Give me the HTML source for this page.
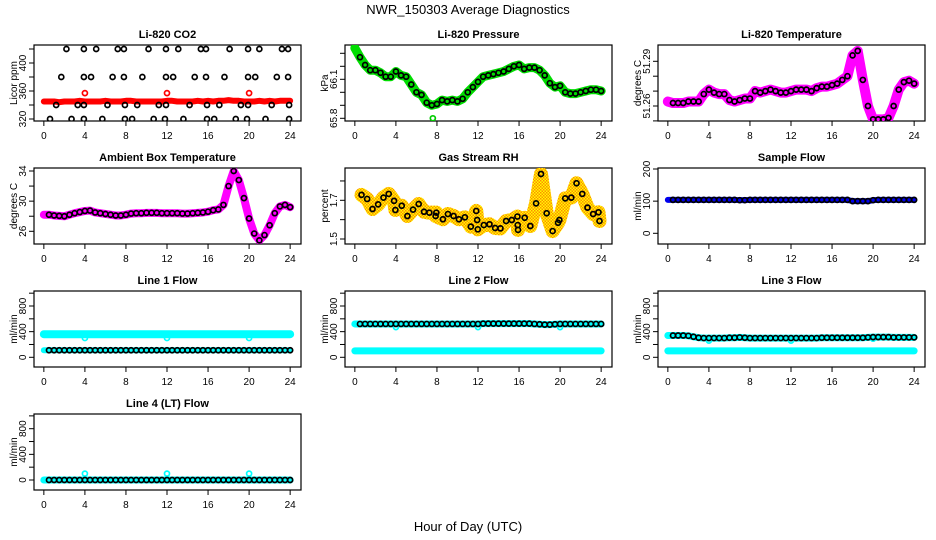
<!DOCTYPE html>
<html><head><meta charset="utf-8"><style>
html,body{margin:0;padding:0;background:#fff}
svg{display:block;font-family:"Liberation Sans",sans-serif}
</style></head><body>
<svg id="c" width="936" height="540" viewBox="0 0 936 540">
<defs><pattern id="rhpat" width="3" height="3" patternUnits="userSpaceOnUse"><rect width="3" height="3" fill="#ffff00"/><rect width="1.5" height="1.5" fill="#ff8c00"/><rect x="1.5" y="1.5" width="1.5" height="1.5" fill="#ff8c00"/></pattern></defs>
<text x="468" y="14" text-anchor="middle" font-size="13">NWR_150303  Average Diagnostics</text>
<text x="468" y="531" text-anchor="middle" font-size="13">Hour of Day (UTC)</text>
</svg>
<script>
const H=[0,0.5,1,1.5,2,2.5,3,3.5,4,4.5,5,5.5,6,6.5,7,7.5,8,8.5,9,9.5,10,10.5,11,11.5,12,12.5,13,13.5,14,14.5,15,15.5,16,16.5,17,17.5,18,18.5,19,19.5,20,20.5,21,21.5,22,22.5,23,23.5,24];
const xTicks=[0,4,8,12,16,20,24];
const co2Hours420=[2.2,3.9,5.1,7.2,7.8,10.2,11.9,13.1,15.3,15.8,18.1,19.9,21.0,23.2,23.8];
const co2Hours380=[1.7,3.9,4.6,6.7,7.8,9.6,11.9,12.6,14.7,15.8,17.6,19.9,20.6,22.7,23.8];
const co2Hours340=[1.2,3.3,3.9,6.2,7.9,9.1,11.2,11.9,14.2,15.9,17.1,19.2,19.9,22.2,23.9];
const co2Hours320=[0.6,2.7,3.9,5.7,7.9,8.6,10.7,11.8,13.6,15.9,16.6,18.7,19.8,21.6,23.9];
const co2Red=[345,345,345,344,345,345,345,346,345,345,345,345,346,345,345,345,346,346,345,345,345,345,345,345,346,346,345,345,345,345,346,345,346,345,346,346,347,346,346,345,345,345,346,345,346,345,346,346,346];
const co2RedOutHours=[4,12,20];
const co2RedOut=[357,357,357];
const pressure=[66.34,66.27,66.21,66.17,66.17,66.15,66.12,66.12,66.16,66.13,66.12,66.06,66.0,65.98,65.92,65.9,65.91,65.94,65.93,65.94,65.93,65.95,66.0,66.04,66.08,66.12,66.13,66.14,66.15,66.16,66.18,66.2,66.21,66.18,66.19,66.19,66.17,66.13,66.07,66.04,66.05,66.0,65.99,65.99,66.0,66.01,66.02,66.02,66.01];
const temp=[51.263,51.262,51.262,51.262,51.263,51.263,51.263,51.268,51.271,51.269,51.268,51.268,51.264,51.263,51.264,51.265,51.265,51.27,51.269,51.27,51.271,51.27,51.269,51.269,51.27,51.271,51.271,51.271,51.27,51.272,51.273,51.273,51.274,51.275,51.2775,51.28,51.294,51.297,51.2775,51.26,51.251,51.251,51.251,51.252,51.26,51.271,51.276,51.277,51.275];
const ambient=[28.2,28.2,28.1,28.05,28.0,28.2,28.4,28.55,28.7,28.75,28.5,28.4,28.3,28.2,28.1,28.1,28.2,28.35,28.4,28.4,28.45,28.45,28.45,28.4,28.4,28.4,28.4,28.35,28.35,28.4,28.45,28.5,28.6,28.8,28.9,29.5,32.0,34.0,32.8,30.4,27.7,25.7,24.8,25.5,26.8,28.4,29.3,29.5,29.2];
const rhHours=[0.65,1.2,1.72,2.27,2.79,3.3,3.82,3.95,4.57,5.12,5.67,6.22,6.74,7.26,7.94,7.87,8.58,9.07,9.62,10.14,10.72,11.3,11.83,11.92,11.98,12.57,13.12,13.67,14.19,14.74,15.29,15.84,15.87,15.9,16.55,17.1,17.66,18.14,18.69,19.27,19.8,19.93,20.5,21.09,21.6,22.16,22.67,23.22,23.74,23.84];
const rhVals=[1.728,1.707,1.655,1.679,1.714,1.733,1.697,1.65,1.672,1.619,1.652,1.681,1.641,1.636,1.636,1.619,1.602,1.629,1.619,1.602,1.612,1.564,1.645,1.598,1.55,1.572,1.576,1.557,1.555,1.593,1.598,1.616,1.572,1.547,1.61,1.567,1.684,1.836,1.633,1.541,1.584,1.598,1.71,1.714,1.788,1.733,1.662,1.629,1.638,1.593];
const sampleFlow=[104,104,104,104,104,104,104,104,104,104,104,104,104,104,103,103,104,104,104,104,104,104,104,104,104,104,104,104,104,104,104,104,104,104,104,104,100,100,100,100,103,104,104,104,104,104,104,104,104];
const line1Black=[110,110,110,110,110,110,110,110,110,110,110,110,110,110,110,110,110,110,110,110,110,110,110,110,110,110,110,110,110,110,110,110,110,110,110,110,110,110,110,110,110,110,110,110,110,110,110,110,110];
const line1Cyan=[360,360,360,360,360,360,360,360,360,360,360,360,360,360,360,360,360,360,360,360,360,360,360,360,360,360,360,360,360,360,360,360,360,360,360,360,360,360,360,360,360,360,360,360,360,360,360,360,360];
const line1CyanLow=[110,110,110,110,110,110,110,110,110,110,110,110,110,110,110,110,110,110,110,110,110,110,110,110,110,110,110,110,110,110,110,110,110,110,110,110,110,110,110,110,110,110,110,110,110,110,110,110,110];
const line1Out=[300,300,300];
const line2Black=[520,520,520,520,520,520,520,520,520,520,520,520,520,520,520,520,520,520,520,520,520,520,520,520,520,525,525,525,525,525,525,525,525,525,525,520,515,510,510,515,520,520,520,520,520,520,520,520,520];
const line2CyanLow=[100,100,100,100,100,100,100,100,100,100,100,100,100,100,100,100,100,100,100,100,100,100,100,100,100,100,100,100,100,100,100,100,100,100,100,100,100,100,100,100,100,100,100,100,100,100,100,100,100];
const line2Out=[470,470,470];
const line3Black=[340,340,340,340,335,320,305,300,300,300,300,300,305,305,310,305,300,300,300,300,300,300,300,300,300,300,300,300,300,300,305,305,305,305,305,305,305,305,305,310,315,315,315,315,310,310,310,310,310];
const line3CyanLow=[100,100,100,100,100,100,100,100,100,100,100,100,100,100,100,100,100,100,100,100,100,100,100,100,100,100,100,100,100,100,100,100,100,100,100,100,100,100,100,100,100,100,100,100,100,100,100,100,100];
const line3Out=[260,260,290];
const line4Black=[0,0,0,0,0,0,0,0,0,0,0,0,0,0,0,0,0,0,0,0,0,0,0,0,0,0,0,0,0,0,0,0,0,0,0,0,0,0,0,0,0,0,0,0,0,0,0,0,0];
const line4Out=[100,100,100];
const outHours=[4,12,20];

const NS="http://www.w3.org/2000/svg";
const svg=document.getElementById('c');
const colL=[34,345,658], rowT=[45,168,291,414], BW=267, BH=76;
function mk(tag,attrs,parent){const e=document.createElementNS(NS,tag);for(const k in attrs)e.setAttribute(k,attrs[k]);(parent||svg).appendChild(e);return e;}
function panel(col,row,title,ylab,v1,p1,v2,p2,yt,ylabels,name){
  const L=colL[col],T=rowT[row];
  const g=mk('g',{});
  
  
  const x=h=>L+9.85+h*246.3/24;
  const y=v=>p1+(v-v1)*(p2-p1)/(v2-v1);
  const b=mk('rect',{x:L,y:T,width:BW,height:BH,fill:'none',stroke:'#000','stroke-width':1.2},g);
  
  
  const t=mk('text',{x:L+BW/2,y:T-7,'text-anchor':'middle','font-size':11,'font-weight':'bold'},g);t.textContent=title;
  
  
  const yl=mk('text',{transform:`translate(${L-17},${T+BH/2}) rotate(-90)`,'text-anchor':'middle','font-size':10},g);yl.textContent=ylab;
  
  
  xTicks.forEach(h=>{
    mk('line',{x1:x(h),x2:x(h),y1:T+BH,y2:T+BH+5,stroke:'#000'},g);
    const tl=mk('text',{x:x(h),y:T+BH+18,'text-anchor':'middle','font-size':10},g);tl.textContent=h;
    
    
  });
  yt.forEach((v,i)=>{
    mk('line',{x1:L-5,x2:L,y1:y(v),y2:y(v),stroke:'#000'},g);
    if(ylabels[i]!==''){const tl=mk('text',{transform:`translate(${L-8},${y(v)}) rotate(-90)`,'text-anchor':'middle','font-size':10},g);tl.textContent=ylabels[i];
    
    }
  });
  const clip=mk('clipPath',{id:'cp'+name},g);mk('rect',{x:L,y:T,width:BW,height:BH},clip);
  const d=mk('g',{'clip-path':`url(#cp${name})`},g);
  return {x,y,g:d};
}
function band(P,hs,vs,color,w,name){
  const pl=mk('polyline',{points:hs.map((h,i)=>P.x(h)+','+P.y(vs[i])).join(' '),fill:'none',stroke:color,'stroke-width':w,'stroke-linejoin':'round','stroke-linecap':'round'},P.g);
  
  
}
function pts(P,hs,vs,color,name,skipFirst){
  hs.forEach((h,i)=>{ if(skipFirst&&i===0)return;
    const c=mk('circle',{cx:P.x(h),cy:P.y(vs[i]),r:2.5,fill:'none',stroke:color,'stroke-width':1.7},P.g);
    
    
  });
}
let P=panel(0,0,'Li-820 CO2','Licor ppm',320,119,400,63,[320,340,360,380,400,420],['320','','360','','400',''],'co2');
band(P,H,co2Red,'#ff0000',6,'co2-red-band');
pts(P,co2RedOutHours,co2RedOut,'#ff0000','co2-red-point');
pts(P,co2Hours420,co2Hours420.map(()=>420),'#000','co2-point');
pts(P,co2Hours380,co2Hours380.map(()=>380),'#000','co2-point');
pts(P,co2Hours340,co2Hours340.map(()=>340),'#000','co2-point');
pts(P,co2Hours320,co2Hours320.map(()=>320),'#000','co2-point');
P=panel(1,0,'Li-820 Pressure','kPa',65.8,118.3,66.1,79.3,[65.8,65.9,66.0,66.1,66.2,66.3],['65.8','','','66.1','',''],'pressure');
band(P,H,pressure,'#00dd00',9,'pressure-band');
pts(P,[7.6],[65.8],'#00cc00','pressure-outlier');
pts(P,H,pressure,'#000','pressure-point',true);
P=panel(2,0,'Li-820 Temperature','degrees C',51.26,106,51.29,61.3,[51.25,51.26,51.27,51.28,51.29],['','51.26','','','51.29'],'li820-temp');
band(P,H,temp,'#ff00ff',10,'li820-temp-band');
pts(P,H,temp,'#000','li820-temp-point',true);
P=panel(0,1,'Ambient Box Temperature','degrees C',26,231.3,34,171,[26,28,30,32,34],['26','','30','','34'],'ambient');
band(P,H,ambient,'#ff00ff',8,'ambient-band');
pts(P,H,ambient,'#000','ambient-point',true);
P=panel(1,1,'Gas Stream RH','percent',1.5,239,1.7,200.3,[1.5,1.6,1.7,1.8],['1.5','','1.7',''],'rh');
band(P,rhHours,rhVals,'url(#rhpat)',14,'rh-band');
pts(P,rhHours,rhVals,'#000','rh-point');
P=panel(2,1,'Sample Flow','ml/min',0,233.3,200,169,[0,100,200],['0','100','200'],'sample-flow');
band(P,H,sampleFlow,'#0000ee',6,'sample-flow-band');
pts(P,H,sampleFlow,'#000','sample-flow-point',true);
const ft=[0,200,400,600,800,1000], fl=['0','','400','','800',''];
P=panel(0,2,'Line 1 Flow','ml/min',0,357.3,800,306,ft,fl,'line1');
band(P,H,line1Cyan,'#00ffff',8,'line1-cyan-band');
band(P,H,line1CyanLow,'#00ffff',6,'line1-cyan-low-band');
pts(P,outHours,line1Out,'#00ffff','line1-cyan-point');
pts(P,H,line1Black,'#000','line1-point',true);
P=panel(1,2,'Line 2 Flow','ml/min',0,357.3,800,306,ft,fl,'line2');
band(P,H,line2Black,'#00ffff',7,'line2-cyan-band');
band(P,H,line2CyanLow,'#00ffff',7,'line2-cyan-low-band');
pts(P,outHours,line2Out,'#00ffff','line2-cyan-point');
pts(P,H,line2Black,'#000','line2-point',true);
P=panel(2,2,'Line 3 Flow','ml/min',0,357.3,800,306,ft,fl,'line3');
band(P,H,line3Black,'#00ffff',7,'line3-cyan-band');
band(P,H,line3CyanLow,'#00ffff',7,'line3-cyan-low-band');
pts(P,outHours,line3Out,'#00ffff','line3-cyan-point');
pts(P,H,line3Black,'#000','line3-point',true);
P=panel(0,3,'Line 4 (LT) Flow','ml/min',0,480,800,428.7,ft,fl,'line4');
band(P,H,line4Black,'#00ffff',7,'line4-cyan-band');
pts(P,outHours,line4Out,'#00ffff','line4-cyan-point');
pts(P,H,line4Black,'#000','line4-point',true);
</script>
</body></html>
